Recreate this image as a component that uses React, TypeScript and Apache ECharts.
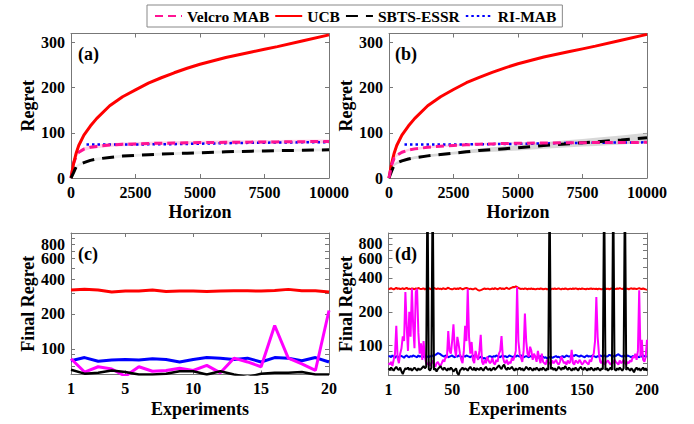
import React, { useEffect, useRef } from 'react';
import * as echarts from 'echarts';

const FONT = 'Times New Roman';

// ---------- panels (a) and (b): regret vs horizon ----------
const horizon = [0, 100, 200, 300, 500, 750, 1000, 1500, 2000, 2500, 3000, 3500, 4000, 4500, 5000, 6000, 7000, 7500, 8000, 9000, 10000];
const riHorizon = [600, 1000, 2000, 3000, 4000, 5000, 6000, 7000, 8000, 9000, 10000];

const ucbA = [0, 32, 55, 72, 95, 115, 132, 160, 180, 195, 210, 222, 233, 243, 252, 267, 279, 285, 291, 304, 317];
const velcroA = [0, 33, 48, 57, 64, 68, 70, 73, 74.5, 75.5, 76.5, 77, 77.5, 78, 78.5, 79, 79.5, 80, 80, 80.5, 81];
const velcroALo = [0, 30, 44, 53, 60, 64, 66, 69, 70.5, 71.5, 72.5, 73, 73.5, 74, 74.5, 75, 75.5, 76, 76, 76.5, 77];
const velcroAHi = [0, 36, 52, 61, 68, 72, 74, 77, 78.5, 79.5, 80.5, 81, 81.5, 82, 82.5, 83, 83.5, 84, 84, 84.5, 85];
const sbtsA = [0, 12, 25, 29, 34, 39, 42, 45.5, 48.5, 50, 51.5, 53, 54, 55, 56, 58, 59.5, 60, 60.5, 61.5, 62.5];
const sbtsALo = [0, 10, 22, 26, 31, 36, 39, 42.5, 45.5, 47, 48.5, 50, 51, 52, 53, 55, 56.5, 57, 57.5, 58.5, 59.5];
const sbtsAHi = [0, 14, 28, 32, 37, 42, 45, 48.5, 51.5, 53, 54.5, 56, 57, 58, 59, 61, 62.5, 63, 63.5, 64.5, 65.5];
const riA = [74, 74, 74, 74.5, 75, 76, 77, 78, 78.5, 79, 79.5];

const ucbB = [0, 32, 55, 72, 95, 115, 132, 160, 180, 196, 211, 223, 234, 244, 253, 268, 280, 286, 292, 305, 318];
const velcroB = [0, 28, 44, 50, 57, 62, 64.5, 68, 70.5, 72, 73.5, 75, 75.5, 76.5, 77, 77.5, 78, 78, 78.5, 78.5, 79];
const velcroBLo = [0, 26, 41, 47, 54, 59, 61.5, 65.5, 68, 69.5, 71, 72.5, 73, 74, 74.5, 75, 75.5, 75.5, 76, 76, 76.5];
const velcroBHi = [0, 30, 47, 53, 60, 65, 67.5, 70.5, 73, 74.5, 76, 77.5, 78, 79, 79.5, 80, 80.5, 80.5, 81, 81, 81.5];
const sbtsB = [0, 15, 29, 33, 38, 42, 45, 49, 52, 55, 58, 61, 63, 65, 67, 72, 76, 78, 80, 84, 89];
const sbtsBLo = [0, 13, 26, 30, 35, 39, 42, 46, 49, 52, 54, 56.5, 58, 59.5, 61, 65, 68, 69.5, 71, 74, 78];
const sbtsBHi = [0, 17, 32, 36, 41, 45, 48, 52, 55, 58, 62, 65.5, 68, 70.5, 73, 79, 84, 86.5, 89, 94, 100];
const riB = [74, 74, 74, 74.5, 75, 75.5, 76.5, 77.5, 78, 78.5, 79];

// ---------- panel (c): final regret, 20 experiments ----------
const ucbC = [322, 326, 322, 309, 315, 315, 322, 313, 315, 315, 313, 315, 317, 317, 315, 319, 326, 317, 317, 309];
const riC = [79, 84, 78, 80, 81, 80, 82, 81, 77, 81, 84, 83, 81, 83, 77, 84, 83, 79, 84, 77];
const velcroC = [82, 63, 70, 67, 58, 70, 64, 65, 68, 65, 72, 62, 83, 77, 70, 159, 83, 74, 65, 214];
const sbtsC = [66, 61, 62, 65, 63, 60, 60, 61, 64, 64, 60, 64, 60, 57, 61, 62, 62, 63, 60, 60];

// ---------- panel (d): final regret, 200 experiments ----------
const ucbD = [
  322, 318, 325, 320, 316, 321, 327, 319, 323, 318, 320, 324, 317, 322, 326, 319, 321, 318, 323, 320,
  317, 322, 319, 325, 321, 318, 320, 323, 316, 321, 319, 324, 320, 317, 322, 326, 321, 318, 323, 319,
  321, 317, 324, 320, 318, 322, 327, 321, 319, 316, 320, 323, 318, 322, 319, 325, 321, 317, 320, 324,
  326, 322, 318, 321, 319, 316, 320, 323, 317, 312, 308, 311, 315, 319, 322, 318, 321, 320, 316, 319,
  322, 318, 324, 320, 317, 321, 325, 319, 322, 318, 323, 327, 321, 319, 324, 328, 332, 330, 336, 331,
  326, 322, 319, 321, 318, 323, 320, 317, 321, 319, 322, 318, 320, 316, 319, 321, 318, 322, 320, 317,
  319, 321, 316, 318, 320, 317, 321, 319, 322, 318, 320, 323, 319, 317, 321, 318, 322, 320, 316, 319,
  321, 318, 322, 319, 323, 320, 317, 321, 318, 322, 320, 319, 317, 321, 318, 320, 322, 319, 321, 318,
  320, 317, 321, 319, 316, 320, 318, 322, 319, 321, 317, 320, 323, 319, 321, 318, 322, 320, 324, 321,
  319, 322, 318, 321, 320, 317, 321, 323, 319, 322, 320, 318, 321, 324, 320, 318, 322, 319, 316, 314,
];
const riD = [
  80, 81, 79, 82, 80, 78, 81, 80, 79, 82, 81, 80, 78, 81, 82, 80, 79, 81, 80, 82,
  81, 80, 79, 82, 80, 81, 79, 80, 82, 81, 80, 79, 81, 80, 82, 81, 83, 84, 86, 85,
  84, 82, 81, 80, 82, 81, 79, 80, 81, 82, 80, 79, 81, 80, 82, 81, 80, 79, 81, 80,
  82, 81, 80, 79, 81, 80, 82, 81, 80, 79, 78, 80, 79, 77, 78, 76, 78, 80, 81, 80,
  79, 81, 80, 82, 81, 80, 79, 81, 82, 80, 81, 79, 80, 82, 81, 80, 79, 81, 80, 82,
  81, 80, 82, 81, 79, 80, 81, 80, 79, 81, 80, 82, 81, 80, 79, 78, 80, 81, 79, 80,
  78, 79, 77, 78, 79, 80, 78, 79, 80, 81, 79, 80, 78, 80, 81, 79, 80, 82, 81, 80,
  81, 80, 82, 81, 83, 82, 81, 80, 82, 81, 80, 79, 81, 82, 80, 81, 80, 82, 81, 80,
  79, 81, 80, 82, 81, 80, 82, 81, 80, 81, 83, 82, 81, 80, 82, 81, 83, 84, 82, 81,
  80, 82, 81, 80, 82, 81, 80, 79, 81, 80, 82, 81, 80, 79, 81, 80, 82, 81, 80, 81,
];
const velcroD = [
  70, 68, 72, 66, 75, 85, 150, 78, 70, 85, 95, 121, 110, 300, 148, 90, 200, 120, 321, 150,
  95, 300, 320, 130, 85, 105, 75, 110, 80, 70, 68, 72, 66, 70, 74, 68, 65, 70, 72, 68,
  66, 70, 75, 72, 80, 78, 135, 90, 85, 110, 155, 95, 80, 120, 103, 85, 75, 70, 90, 150,
  110, 320, 120, 85, 108, 75, 70, 90, 80, 75, 90, 125, 72, 68, 75, 70, 80, 74, 70, 72,
  78, 70, 68, 75, 72, 85, 90, 122, 80, 72, 70, 75, 68, 72, 70, 78, 74, 80, 90, 331,
  110, 85, 78, 72, 90, 193, 110, 85, 80, 98, 90, 75, 85, 80, 72, 90, 78, 70, 85, 72,
  70, 68, 75, 72, 70, 68, 74, 70, 72, 75, 70, 68, 72, 80, 75, 70, 72, 68, 74, 70,
  72, 92, 70, 68, 74, 72, 70, 75, 72, 68, 70, 74, 72, 70, 68, 75, 72, 80, 85, 110,
  270, 120, 85, 72, 70, 75, 68, 70, 72, 74, 70, 68, 72, 70, 75, 72, 70, 68, 74, 70,
  72, 75, 70, 68, 72, 70, 74, 72, 80, 78, 85, 75, 90, 310, 80, 113, 75, 72, 80, 113,
];
const sbtsD = [
  63, 61, 64, 62, 60, 63, 65, 62, 61, 64, 59, 56, 60, 63, 62, 64, 61, 63, 60, 62,
  64, 62, 60, 63, 61, 62, 64, 66, 63, 65, 3000, 62, 60, 64, 3000, 61, 63, 59, 62, 64,
  66, 63, 61, 64, 62, 60, 63, 61, 64, 62, 59, 61, 63, 57, 55, 60, 62, 64, 61, 63,
  62, 60, 63, 65, 62, 61, 64, 60, 63, 62, 61, 64, 62, 60, 63, 65, 62, 61, 63, 60,
  62, 64, 61, 63, 65, 67, 64, 62, 66, 68, 63, 61, 64, 62, 63, 65, 62, 60, 63, 61,
  62, 64, 61, 63, 60, 62, 65, 63, 61, 64, 62, 60, 63, 61, 64, 62, 60, 63, 61, 64,
  62, 60, 63, 61, 3000, 62, 64, 61, 63, 60, 62, 65, 63, 61, 64, 62, 66, 63, 61, 64,
  62, 60, 63, 61, 64, 62, 60, 63, 65, 62, 61, 64, 62, 60, 63, 61, 64, 62, 60, 63,
  61, 64, 62, 60, 63, 62, 3000, 61, 63, 60, 62, 64, 61, 3000, 62, 60, 63, 61, 64, 62,
  60, 63, 3000, 61, 64, 62, 60, 63, 61, 58, 62, 64, 61, 63, 60, 62, 64, 61, 63, 60,
];

const legendNames = ['Velcro MAB', 'UCB', 'SBTS-ESSR', 'RI-MAB'];
const horizonTicks = [0, 2500, 5000, 7500, 10000];
const regretTicks = [0, 100, 200, 300];
// log-axis labels (100, 200, 400, 600, 800) are spread over overlaid axes so close labels never hide each other
const finalLabelsMain = [100, 800];
const finalLabelsExtra1 = [200, 600];
const finalLabelsExtra2 = [400];
const finalMinorTicks = [60, 70, 80, 90, 100, 200, 300, 400, 500, 600, 700, 800, 900, 1000];
const expTicksC = [1, 5, 10, 15, 20];
const expTicksD = [1, 50, 100, 150, 200];

const AXIS_COLOR = '#777';
const labelStyle = { fontFamily: FONT, fontWeight: 'bold', fontSize: 16, color: '#000' };
const nameStyle = { fontFamily: FONT, fontWeight: 'bold', fontSize: 18, color: '#000' };
const plain = (v: number) => String(v);

function xAxis(gridIndex: number, min: number, max: number, ticks: number[], name: string, top: boolean) {
  return {
    type: 'value', gridIndex, min, max, position: top ? 'top' : 'bottom',
    name: top ? '' : name, nameLocation: 'middle', nameGap: 25, nameTextStyle: nameStyle,
    axisLine: { show: true, onZero: false, lineStyle: { color: AXIS_COLOR, width: 1 } },
    axisTick: { show: true, inside: true, length: 4, customValues: ticks, lineStyle: { color: AXIS_COLOR } },
    axisLabel: {
      show: !top, customValues: ticks, margin: 6, hideOverlap: false,
      showMinLabel: true, showMaxLabel: true, formatter: plain, ...labelStyle,
    },
    splitLine: { show: false },
  };
}
function yAxis(gridIndex: number, type: string, min: number, max: number, labels: number[] | null, ticks: number[], name: string, right: boolean, bare = false) {
  return {
    type, gridIndex, min, max, position: right ? 'right' : 'left', logBase: 10,
    name: right ? '' : name, nameLocation: 'middle', nameGap: 34, nameTextStyle: nameStyle,
    axisLine: { show: !bare, onZero: false, lineStyle: { color: AXIS_COLOR, width: 1 } },
    axisTick: { show: !bare, inside: true, length: 4, customValues: ticks, lineStyle: { color: AXIS_COLOR } },
    axisLabel: {
      show: !right && !!labels, customValues: labels || ticks, margin: 6, hideOverlap: false,
      showMinLabel: true, showMaxLabel: true, formatter: plain, ...labelStyle,
    },
    splitLine: { show: false },
    minorTick: { show: false },
  };
}

function pairs(xs: number[], ys: number[]) {
  return ys.map((y, i) => [xs[i], y]);
}
function idx(ys: number[]) {
  return ys.map((y, i) => [i + 1, y]);
}
function line(name: string, ai: number, data: number[][], color: string, width: number, type: any) {
  return {
    type: 'line', name, xAxisIndex: ai, yAxisIndex: ai, data, z: 3,
    symbol: 'none', showSymbol: false, silent: true,
    lineStyle: { color, width, type }, itemStyle: { color },
    emphasis: { disabled: true },
  };
}
function band(ai: number, xs: number[], lo: number[], hi: number[], color: string) {
  return {
    type: 'custom', name: 'band', xAxisIndex: ai, yAxisIndex: ai, silent: true, z: 2,
    data: [[xs[0], lo[0]]],
    renderItem: (_params: any, api: any) => {
      const pts: number[][] = [];
      for (let i = 0; i < xs.length; i++) pts.push(api.coord([xs[i], hi[i]]));
      for (let i = xs.length - 1; i >= 0; i--) pts.push(api.coord([xs[i], lo[i]]));
      return { type: 'polygon', shape: { points: pts }, style: { fill: color, stroke: 'none' } };
    },
  };
}

const PINK = '#ff1493';
const MAGENTA = '#ff00ff';
const RED = '#ff0000';
const BLUE = '#0000ff';
const BLACK = '#000000';
const VEL_DASH = [8, 5];
const SB_DASH = [12, 8];
const RI_DOT = [2.5, 3];

function buildOption() {
  const grids = [
    { left: 71, top: 33.5, width: 258, height: 144.5 },
    { left: 389, top: 33.5, width: 258, height: 144.5 },
    { left: 71, top: 233, width: 258, height: 141.5 },
    { left: 388.5, top: 233, width: 258.5, height: 142 },
  ];
  const xAxes = [
    xAxis(0, 0, 10000, horizonTicks, 'Horizon', false),
    xAxis(1, 0, 10000, horizonTicks, 'Horizon', false),
    xAxis(2, 1, 20, expTicksC, 'Experiments', false),
    xAxis(3, 1, 200, expTicksD, 'Experiments', false),
    xAxis(0, 0, 10000, horizonTicks, '', true),
    xAxis(1, 0, 10000, horizonTicks, '', true),
    xAxis(2, 1, 20, expTicksC, '', true),
    xAxis(3, 1, 200, expTicksD, '', true),
  ];
  const yAxes = [
    yAxis(0, 'value', 0, 320, regretTicks, regretTicks, 'Regret', false),
    yAxis(1, 'value', 0, 320, regretTicks, regretTicks, 'Regret', false),
    yAxis(2, 'log', 60, 1000, finalLabelsMain, finalMinorTicks, '', false),
    yAxis(3, 'log', 55, 1000, finalLabelsMain, finalMinorTicks, '', false),
    yAxis(0, 'value', 0, 320, regretTicks, regretTicks, '', true),
    yAxis(1, 'value', 0, 320, regretTicks, regretTicks, '', true),
    yAxis(2, 'log', 60, 1000, finalLabelsMain, finalMinorTicks, '', true),
    yAxis(3, 'log', 55, 1000, finalLabelsMain, finalMinorTicks, '', true),
    yAxis(2, 'log', 60, 1000, finalLabelsExtra1, finalMinorTicks, '', false, true),
    yAxis(3, 'log', 55, 1000, finalLabelsExtra1, finalMinorTicks, '', false, true),
    yAxis(2, 'log', 60, 1000, finalLabelsExtra2, finalMinorTicks, '', false, true),
    yAxis(3, 'log', 55, 1000, finalLabelsExtra2, finalMinorTicks, '', false, true),
    yAxis(2, 'log', 60, 1000, null, finalMinorTicks, 'Final Regret', false, true),
    yAxis(3, 'log', 55, 1000, null, finalMinorTicks, 'Final Regret', false, true),
  ];

  const allSeries: any[] = [
    // (a)
    line('Velcro MAB', 0, pairs(horizon, velcroA), PINK, 3, VEL_DASH),
    line('UCB', 0, pairs(horizon, ucbA), RED, 3, 'solid'),
    line('SBTS-ESSR', 0, pairs(horizon, sbtsA), BLACK, 3, SB_DASH),
    line('RI-MAB', 0, pairs(riHorizon, riA), BLUE, 2.5, RI_DOT),
    band(0, horizon, velcroALo, velcroAHi, 'rgba(255,150,200,0.45)'),
    band(0, horizon, sbtsALo, sbtsAHi, 'rgba(200,200,200,0.35)'),
    // (b)
    band(1, horizon, velcroBLo, velcroBHi, 'rgba(255,150,200,0.45)'),
    band(1, horizon, sbtsBLo, sbtsBHi, 'rgba(190,190,190,0.6)'),
    line('UCB', 1, pairs(horizon, ucbB), RED, 3, 'solid'),
    line('RI-MAB', 1, pairs(riHorizon, riB), BLUE, 2.5, RI_DOT),
    line('SBTS-ESSR', 1, pairs(horizon, sbtsB), BLACK, 3, SB_DASH),
    line('Velcro MAB', 1, pairs(horizon, velcroB), PINK, 3, VEL_DASH),
    // (c)
    line('UCB', 2, idx(ucbC), RED, 3, 'solid'),
    line('RI-MAB', 2, idx(riC), BLUE, 3, 'solid'),
    line('Velcro MAB', 2, idx(velcroC), MAGENTA, 3, 'solid'),
    line('SBTS-ESSR', 2, idx(sbtsC), BLACK, 2.5, 'solid'),
    // (d)
    line('UCB', 3, idx(ucbD), RED, 2, 'solid'),
    line('RI-MAB', 3, idx(riD), BLUE, 2, 'solid'),
    line('Velcro MAB', 3, idx(velcroD), MAGENTA, 2, 'solid'),
    line('SBTS-ESSR', 3, idx(sbtsD), BLACK, 2, 'solid'),
  ];
  allSeries[3].z = 2.5;

  const panelLabel = (text: string, left: number, top: number) => ({
    type: 'text', left, top, z: 10,
    style: { text, fontFamily: FONT, fontWeight: 'bold', fontSize: 18, fill: '#000' },
  });

  return {
    animation: false,
    backgroundColor: '#ffffff',
    textStyle: { fontFamily: FONT },
    grid: grids,
    xAxis: xAxes,
    yAxis: yAxes,
    legend: {
      data: legendNames,
      left: 147, top: 5,
      itemWidth: 27, itemHeight: 12, itemGap: 5,
      padding: [3, 6, 3, 7],
      borderColor: '#888', borderWidth: 1,
      selectedMode: false,
      itemStyle: { opacity: 0 },
      textStyle: { fontFamily: FONT, fontWeight: 'bold', fontSize: 15.5, color: '#000' },
    },
    graphic: [
      panelLabel('(a)', 78, 45),
      panelLabel('(b)', 395, 45),
      panelLabel('(c)', 78, 245),
      panelLabel('(d)', 395, 245),
    ],
    series: allSeries,
  };
}

export default function App() {
  const ref = useRef<HTMLDivElement>(null);
  useEffect(() => {
    if (!ref.current) return;
    const chart = echarts.init(ref.current, null, { renderer: 'svg' });
    chart.setOption(buildOption() as any);
    return () => chart.dispose();
  }, []);
  return (
    <div
      ref={ref}
      style={{ position: 'absolute', left: 0, top: 0, width: 694, height: 424, background: '#fff' }}
    />
  );
}
